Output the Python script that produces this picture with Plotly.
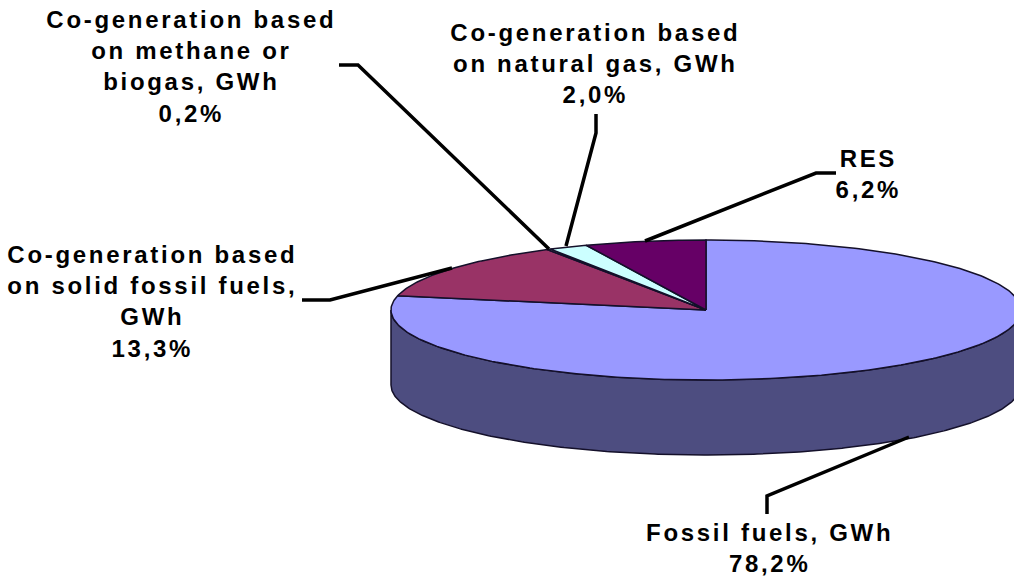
import numpy as np
import plotly.graph_objects as go

# --- data ---
categories = ["Fossil fuels, GWh", "Co-generation based on solid fossil fuels, GWh",
              "Co-generation based on methane or biogas, GWh",
              "Co-generation based on natural gas, GWh", "RES"]
shares = [78.2, 13.3, 0.2, 2.0, 6.2]
share_labels = ["78,2%", "13,3%", "0,2%", "2,0%", "6,2%"]
top_colors = ["#9999FF", "#993366", "#FFFFCC", "#CCFFFF", "#660066"]
wall_color = "#4D4D80"
edge_color = "#14102a"

label_lines = [
    "Fossil fuels, GWh<br>78,2%",
    "Co-generation based<br>on solid fossil fuels,<br>GWh<br>13,3%",
    "Co-generation based<br>on methane or<br>biogas, GWh<br>0,2%",
    "Co-generation based<br>on natural gas, GWh<br>2,0%",
    "RES<br>6,2%",
]
label_x = [769, 152, 191, 595, 868]
label_y = [548, 301, 66, 63, 174]

leader_x = [[909, 767, 767], [452, 330, 302], [549, 358, 339], [566, 596, 596], [645, 816, 836]]
leader_y = [[437, 496, 514], [268, 300, 300], [249, 65, 65], [246, 133, 114], [241, 173, 173]]

# --- projection of the pie ---
CX, CY, RX, RY, DEPTH = 706, 310, 315, 70, 75
W, H = 1014, 578

fractions = np.array(shares) / sum(shares)
edges = np.concatenate([[0], np.cumsum(fractions)]) * 2 * np.pi


def rim(a0, a1, n=200):
    t = np.linspace(a0, a1, max(n, 2))
    return CX + RX * np.sin(t), CY - RY * np.cos(t)


fig = go.Figure()

# side wall (front half of the rim, pushed down by the depth)
wx, wy = rim(np.pi / 2, 3 * np.pi / 2, 300)
fig.add_trace(go.Scatter(
    x=np.concatenate([wx, wx[::-1]]),
    y=np.concatenate([wy, wy[::-1] + DEPTH]),
    mode="lines", fill="toself", fillcolor=wall_color,
    line=dict(color=edge_color, width=1.5), hoverinfo="skip", showlegend=False))

# top faces
for i, cat in enumerate(categories):
    sx, sy = rim(edges[i], edges[i + 1], int(400 * fractions[i]) + 8)
    fig.add_trace(go.Scatter(
        x=np.concatenate([[CX], sx, [CX]]),
        y=np.concatenate([[CY], sy, [CY]]),
        mode="lines", fill="toself", fillcolor=top_colors[i],
        line=dict(color=edge_color, width=1.5),
        name=cat, text=share_labels[i], hoverinfo="name+text", showlegend=False))

# leader lines
for lx, ly in zip(leader_x, leader_y):
    fig.add_trace(go.Scatter(x=lx, y=ly, mode="lines",
                             line=dict(color="#000000", width=3.5),
                             hoverinfo="skip", showlegend=False))

for txt, x, y in zip(label_lines, label_x, label_y):
    bold = "<b>" + txt.replace("<br>", "</b><br><b>") + "</b>"
    fig.add_annotation(x=x, y=y, text=bold, showarrow=False, xanchor="center", yanchor="middle",
                       align="center", font=dict(family="Liberation Sans", size=24, color="#000000"))

fig.update_layout(
    width=W, height=H, margin=dict(l=0, r=0, t=0, b=0),
    paper_bgcolor="#FFFFFF", plot_bgcolor="#FFFFFF", showlegend=False,
    xaxis=dict(range=[0, W], visible=False, fixedrange=True),
    yaxis=dict(range=[H, 0], visible=False, fixedrange=True),
)
fig.write_html(
    "out.html",
    config={"displayModeBar": False},
    post_script=("document.body.style.margin='0';"
                 "var s=document.createElement('style');"
                 "s.textContent='.annotation-text{letter-spacing:2.7px;}';"
                 "document.head.appendChild(s);"),
)
